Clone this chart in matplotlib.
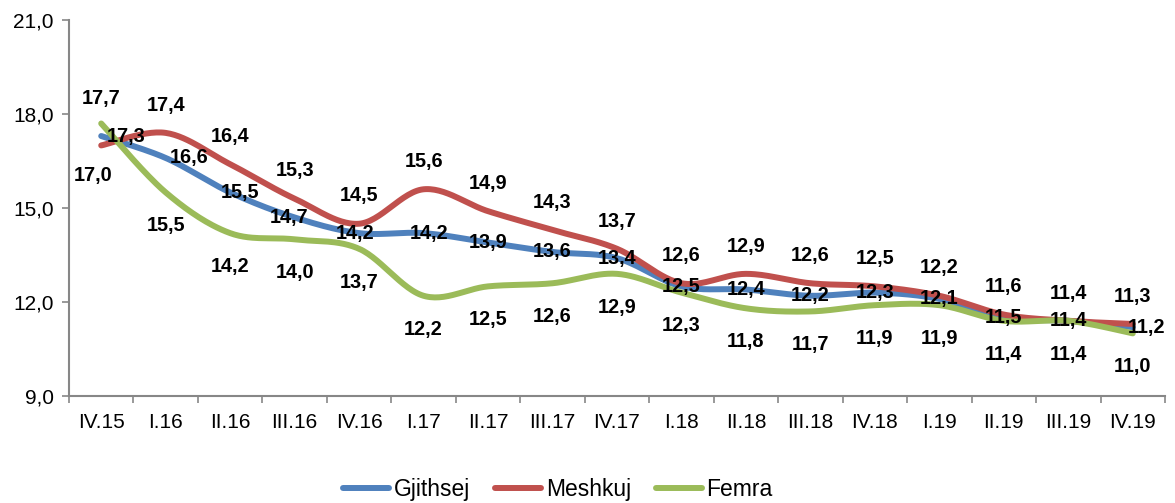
import numpy as np
import matplotlib
matplotlib.use('Agg')
import matplotlib.pyplot as plt
from matplotlib.ticker import FuncFormatter

plt.rcParams['font.family'] = ['Liberation Sans', 'DejaVu Sans']

periods = ['IV.15', 'I.16', 'II.16', 'III.16', 'IV.16', 'I.17', 'II.17', 'III.17', 'IV.17',
           'I.18', 'II.18', 'III.18', 'IV.18', 'I.19', 'II.19', 'III.19', 'IV.19']
gjithsej = [17.3, 16.6, 15.5, 14.7, 14.2, 14.2, 13.9, 13.6, 13.4, 12.5, 12.4, 12.2, 12.3, 12.1, 11.5, 11.4, 11.2]
meshkuj = [17.0, 17.4, 16.4, 15.3, 14.5, 15.6, 14.9, 14.3, 13.7, 12.6, 12.9, 12.6, 12.5, 12.2, 11.6, 11.4, 11.3]
femra = [17.7, 15.5, 14.2, 14.0, 13.7, 12.2, 12.5, 12.6, 12.9, 12.3, 11.8, 11.7, 11.9, 11.9, 11.4, 11.4, 11.0]

colors = {'Gjithsej': '#4F81BD', 'Meshkuj': '#C0504D', 'Femra': '#9BBB59'}


def smooth(x, y, n=30):
    # excel-like smoothed line (cardinal bezier through the points)
    x = np.asarray(x, float)
    y = np.asarray(y, float)
    px, py = [], []
    for i in range(len(x) - 1):
        x0, y0 = (x[i - 1], y[i - 1]) if i > 0 else (x[i], y[i])
        x3, y3 = (x[i + 2], y[i + 2]) if i + 2 < len(x) else (x[i + 1], y[i + 1])
        x1, y1 = x[i], y[i]
        x2, y2 = x[i + 1], y[i + 1]
        c1x, c1y = x1 + (x2 - x0) / 6, y1 + (y2 - y0) / 6
        c2x, c2y = x2 - (x3 - x1) / 6, y2 - (y3 - y1) / 6
        t = np.linspace(0, 1, n)
        px.append((1 - t) ** 3 * x1 + 3 * (1 - t) ** 2 * t * c1x + 3 * (1 - t) * t ** 2 * c2x + t ** 3 * x2)
        py.append((1 - t) ** 3 * y1 + 3 * (1 - t) ** 2 * t * c1y + 3 * (1 - t) * t ** 2 * c2y + t ** 3 * y2)
    return np.concatenate(px), np.concatenate(py)


fig = plt.figure(figsize=(11.75, 5.03), dpi=100)
ax = fig.add_axes([0.0587, 0.2127, 0.9328, 0.7473])

x = np.arange(len(periods))
for name, vals in [('Gjithsej', gjithsej), ('Meshkuj', meshkuj), ('Femra', femra)]:
    sx, sy = smooth(x, vals)
    ax.plot(sx, sy, color=colors[name], lw=4.3, solid_capstyle='round', label=name)

fmt = lambda v: ('%.1f' % v).replace('.', ',')
lab = dict(fontsize=14.3, fontweight='bold', ha='center', va='center', textcoords='offset points')

for i, v in enumerate(gjithsej):
    dx = {0: 18, 1: 17, 2: 7, 3: -4, 4: -3, 5: 4, 16: 10}.get(i, 0)
    ax.annotate(fmt(v), (i, v), xytext=(dx, 0), **lab)
for i, v in enumerate(meshkuj):
    if i == 0:
        ax.annotate(fmt(v), (i, v), xytext=(-6, -22), **lab)
    else:
        ax.annotate(fmt(v), (i, v), xytext=(0, 20), **lab)
for i, v in enumerate(femra):
    if i == 0:
        ax.annotate(fmt(v), (i, v), xytext=(0, 18), **lab)
    else:
        ax.annotate(fmt(v), (i, v), xytext=(0, -24), **lab)

ax.set_xlim(-0.5, len(periods) - 0.5)
ax.set_ylim(9, 21)
ax.set_yticks([9, 12, 15, 18, 21])
ax.yaxis.set_major_formatter(FuncFormatter(lambda v, p: fmt(v)))
ax.set_xticks(x)
ax.set_xticklabels(periods)
ax.set_xticks(np.arange(-0.5, len(periods)), minor=True)
ax.tick_params(axis='x', which='major', length=0, labelsize=15, pad=12)
ax.tick_params(axis='x', which='minor', length=5, color='#878787', width=1.2)
ax.tick_params(axis='y', length=5, color='#878787', width=1.2, labelsize=15, pad=6)

for s in ['top', 'right']:
    ax.spines[s].set_visible(False)
for s in ['left', 'bottom']:
    ax.spines[s].set_color('#878787')
    ax.spines[s].set_linewidth(1.5)

fig.legend(loc='center', bbox_to_anchor=(0.475, 0.026), ncol=3, frameon=False,
           fontsize=16.5, handlelength=2.0, handletextpad=0.2, columnspacing=1.1,
           borderpad=0, borderaxespad=0)

fig.savefig('out.png', dpi=100)
